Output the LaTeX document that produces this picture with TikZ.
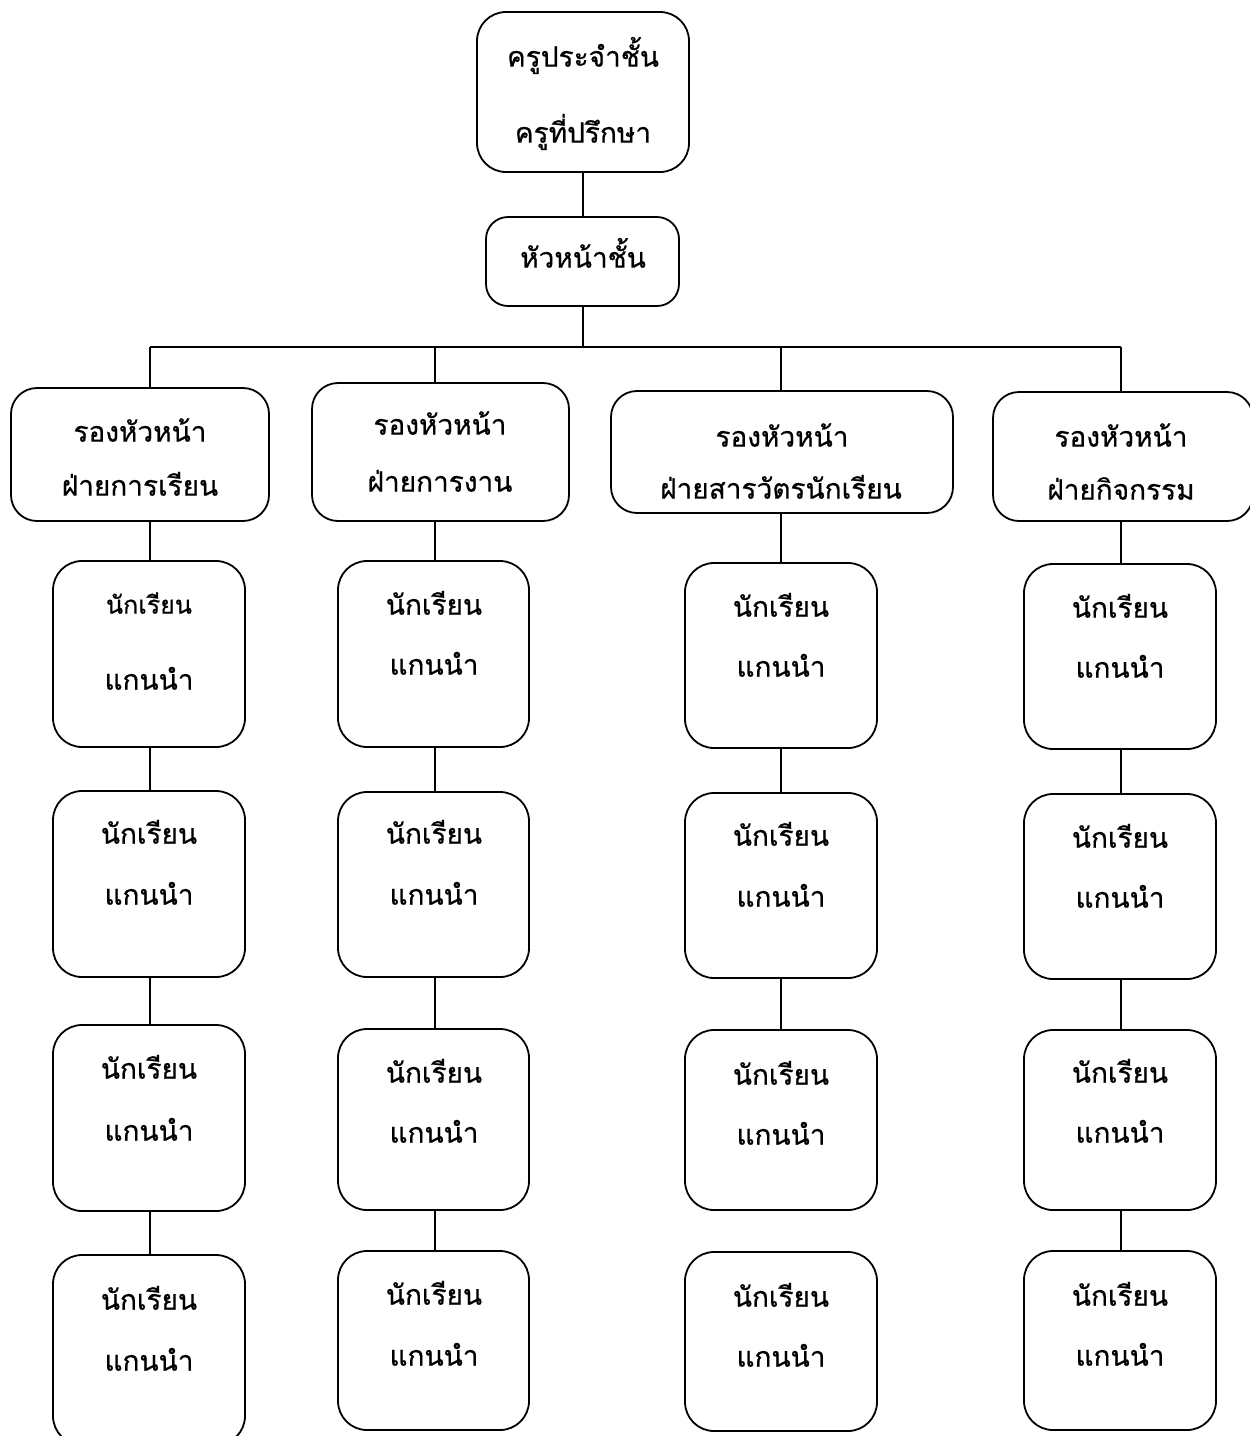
\documentclass[tikz,border=0pt]{standalone}
\usepackage{fontspec}
\newfontfamily\thaifont[Script=Thai,FakeBold=0.6]{Loma}
\tikzset{
  box/.style={draw, line width=1.8pt, rounded corners=29pt, inner sep=0pt, outer sep=0pt},
  txt/.style={inner sep=0pt, anchor=mid, yshift=-7.5pt, font=\thaifont\fontsize{28}{30}\selectfont},
  txts/.style={txt, font=\thaifont\fontsize{25}{27}\selectfont},
  link/.style={line width=1.8pt}
}
\newcommand\bx[6][]{\node[box, #1, anchor=north west, minimum width={#5pt-#3pt}, minimum height={#6pt-#4pt}] (#2) at (#3,#4) {};}
\newcommand\tx[5][txt]{\node[#1] (#2) at (#3,#4) {#5};}
\begin{document}
\begin{tikzpicture}[x=1pt,y=-1pt]
\useasboundingbox[fill=white] (0,0) rectangle (1250,1436);
% top
\bx{top}{477}{12}{689}{172}
\tx{topa}{583}{57}{ครูประจำชั้น}
\tx{topb}{583}{133}{ครูที่ปรึกษา}
\bx[rounded corners=22pt]{hc}{486}{217}{679}{306}
\tx{hct}{583}{258}{หัวหน้าชั้น}
% deputies
\bx[rounded corners=26pt]{d1}{11}{388}{269}{521}
\tx{d1a}{140}{432}{รองหัวหน้า}
\tx{d1b}{140}{486}{ฝ่ายการเรียน}
\bx[rounded corners=26pt]{d2}{312}{383}{569}{521}
\tx{d2a}{440}{425}{รองหัวหน้า}
\tx{d2b}{440}{482}{ฝ่ายการงาน}
\bx[rounded corners=26pt]{d3}{611}{391}{953}{513}
\tx{d3a}{782}{437}{รองหัวหน้า}
\tx{d3b}{781}{489}{ฝ่ายสารวัตรนักเรียน}
\bx[rounded corners=26pt]{d4}{993}{392}{1253}{521}
\tx{d4a}{1121}{437}{รองหัวหน้า}
\tx{d4b}{1121}{490}{ฝ่ายกิจกรรม}
% column 1
\bx{s11}{53}{561}{245}{747}
\tx[txts]{s11a}{149}{604}{นักเรียน}
\tx{s11b}{149}{680}{แกนนำ}
\bx{s12}{53}{791}{245}{977}
\tx{s12a}{149}{834}{นักเรียน}
\tx{s12b}{149}{895}{แกนนำ}
\bx{s13}{53}{1025}{245}{1211}
\tx{s13a}{149}{1069}{นักเรียน}
\tx{s13b}{149}{1131}{แกนนำ}
\bx{s14}{53}{1255}{245}{1445}
\tx{s14a}{149}{1300}{นักเรียน}
\tx{s14b}{149}{1361}{แกนนำ}
% column 2
\bx{s21}{338}{561}{529}{747}
\tx{s21a}{434}{605}{นักเรียน}
\tx{s21b}{434}{665}{แกนนำ}
\bx{s22}{338}{792}{529}{977}
\tx{s22a}{434}{834}{นักเรียน}
\tx{s22b}{434}{895}{แกนนำ}
\bx{s23}{338}{1029}{529}{1210}
\tx{s23a}{434}{1073}{นักเรียน}
\tx{s23b}{434}{1133}{แกนนำ}
\bx{s24}{338}{1251}{529}{1430}
\tx{s24a}{434}{1295}{นักเรียน}
\tx{s24b}{434}{1356}{แกนนำ}
% column 3
\bx{s31}{685}{563}{877}{748}
\tx{s31a}{781}{607}{นักเรียน}
\tx{s31b}{781}{667}{แกนนำ}
\bx{s32}{685}{793}{877}{978}
\tx{s32a}{781}{836}{นักเรียน}
\tx{s32b}{781}{897}{แกนนำ}
\bx{s33}{685}{1030}{877}{1210}
\tx{s33a}{781}{1075}{นักเรียน}
\tx{s33b}{781}{1135}{แกนนำ}
\bx{s34}{685}{1252}{877}{1431}
\tx{s34a}{781}{1297}{นักเรียน}
\tx{s34b}{781}{1357}{แกนนำ}
% column 4
\bx{s41}{1024}{564}{1216}{749}
\tx{s41a}{1120}{608}{นักเรียน}
\tx{s41b}{1120}{668}{แกนนำ}
\bx{s42}{1024}{794}{1216}{979}
\tx{s42a}{1120}{838}{นักเรียน}
\tx{s42b}{1120}{898}{แกนนำ}
\bx{s43}{1024}{1030}{1216}{1210}
\tx{s43a}{1120}{1073}{นักเรียน}
\tx{s43b}{1120}{1133}{แกนนำ}
\bx{s44}{1024}{1251}{1216}{1430}
\tx{s44a}{1120}{1296}{นักเรียน}
\tx{s44b}{1120}{1356}{แกนนำ}
% connectors
\coordinate (c1) at (150,347);
\coordinate (c2) at (435,347);
\coordinate (c3) at (781,347);
\coordinate (c4) at (1121,347);
\draw[link] (top.south) -- (top.south |- hc.north);
\draw[link] (top.south |- hc.south) -- (top.south |- c1);
\draw[link] (c1) -- (c4);
% column 1 links
\draw[link] (c1) -- (c1 |- d1.north);
\draw[link] (c1 |- d1.south) -- (c1 |- s11.north);
\draw[link] (c1 |- s11.south) -- (c1 |- s12.north);
\draw[link] (c1 |- s12.south) -- (c1 |- s13.north);
\draw[link] (c1 |- s13.south) -- (c1 |- s14.north);
% column 2 links
\draw[link] (c2) -- (c2 |- d2.north);
\draw[link] (c2 |- d2.south) -- (c2 |- s21.north);
\draw[link] (c2 |- s21.south) -- (c2 |- s22.north);
\draw[link] (c2 |- s22.south) -- (c2 |- s23.north);
\draw[link] (c2 |- s23.south) -- (c2 |- s24.north);
% column 3 links
\draw[link] (c3) -- (c3 |- d3.north);
\draw[link] (c3 |- d3.south) -- (c3 |- s31.north);
\draw[link] (c3 |- s31.south) -- (c3 |- s32.north);
\draw[link] (c3 |- s32.south) -- (c3 |- s33.north);
% column 4 links
\draw[link] (c4) -- (c4 |- d4.north);
\draw[link] (c4 |- d4.south) -- (c4 |- s41.north);
\draw[link] (c4 |- s41.south) -- (c4 |- s42.north);
\draw[link] (c4 |- s42.south) -- (c4 |- s43.north);
\draw[link] (c4 |- s43.south) -- (c4 |- s44.north);
\end{tikzpicture}
\end{document}
